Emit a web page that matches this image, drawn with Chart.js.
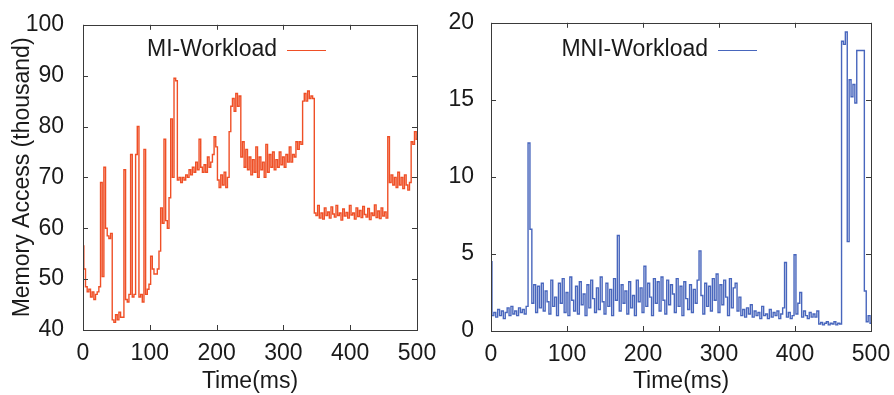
<!DOCTYPE html>
<html>
<head>
<meta charset="utf-8">
<title>Memory access: MI vs MNI workload</title>
<script src="https://cdn.jsdelivr.net/npm/chart.js@4.4.1/dist/chart.umd.min.js"></script>
<style>
  html, body { margin: 0; padding: 0; background: #fff; }
  #wrap { position: relative; width: 894px; height: 395px; overflow: hidden; }
  #miChart { position: absolute; left: 0; top: 0; }
  #mniChart { position: absolute; left: 445px; top: 0; }
</style>
</head>
<body>
<div id="wrap">
  <canvas id="miChart" width="445" height="395"></canvas>
  <canvas id="mniChart" width="449" height="395"></canvas>
</div>
<script>
// samples are 2.5 ms apart, 0..500 ms
const sampleMs = 2.5;
const xTicks = [0, 100, 200, 300, 400, 500];

// MI-Workload, memory accesses (thousand)
const miValues = [
  56.5, 52, 48.5, 47.5, 48, 46.5, 47.5, 46, 47, 47.5,
  48.5, 69, 50.5, 72, 60, 58.5, 58, 59, 42, 41.5,
  43, 42, 43.5, 42.5, 42.5, 71.5, 46, 45.5, 47, 74.5,
  46.5, 47, 74.5, 80, 46.5, 47, 45.5, 75.5, 47, 48,
  49, 54.5, 52, 51, 51, 52, 55.5, 64, 61, 77.5,
  61.5, 60, 66, 81.5, 70, 89.5, 89, 69.5, 70, 69,
  70, 69.5, 70.5, 70, 71.5, 70.5, 72, 71, 73, 71.5,
  77.5, 72, 71, 72.5, 71, 74, 72, 73, 74.5, 78,
  76, 69.5, 68, 70.5, 68.5, 71, 68, 70, 79, 84,
  85.5, 83, 86.5, 84, 86, 74, 77, 72, 75.5, 71.5,
  74, 70.5, 73.5, 71, 76, 70, 74, 71.5, 73, 70,
  76.5, 71, 74.5, 72, 75, 71.5, 73.5, 72, 75, 72.5,
  74, 72, 74.5, 73, 76, 73, 74.5, 74, 77, 75.5,
  77, 76.5, 85, 86.5, 85, 87, 85.5, 86, 85.5, 63,
  62.5, 64.5, 62, 63, 61.8, 64, 62.5, 63.2, 62, 64.2,
  62.8, 62.2, 64.5, 62.5, 63, 61.6, 63.8, 62.4, 63.1, 62,
  64.5, 62.6, 63, 61.8, 64, 62.3, 63.5, 62.1, 64.3, 62.7,
  62.2, 63.9, 61.7, 63, 62.5, 64.6, 62.1, 63.4, 61.9, 64,
  62.4, 63.2, 62, 78, 69, 70.5, 68.5, 70, 68, 71,
  68.5, 70, 67.8, 70.5, 68.5, 67.5, 69, 77, 76.5, 79,
  77.5
];

// MNI-Workload, memory accesses (thousand)
const mniValues = [
  4.5, 1.0, 1.2, 0.9, 1.4, 1.0, 1.3, 0.8, 1.2, 1.5,
  1.0, 1.6, 1.1, 1.3, 1.0, 1.5, 1.2, 1.4, 1.1, 1.6,
  12.2, 6.6, 1.8, 3.0, 1.2, 2.9, 1.5, 3.1, 1.3, 2.6,
  1.9, 1.1, 3.3, 1.6, 2.2, 1.0, 3.1, 1.8, 3.4, 1.2,
  2.5, 1.0, 3.5, 2.0, 1.3, 2.9, 1.1, 3.2, 1.7, 2.4,
  1.0, 3.0, 1.5, 3.3, 2.1, 1.2, 2.8, 1.4, 3.5, 1.9,
  1.1, 3.1, 1.6, 2.7, 1.0, 3.4, 2.0, 6.2, 1.3, 3.0,
  1.8, 2.6, 1.1, 3.2, 1.5, 2.3, 1.0, 3.3, 1.9, 2.8,
  1.2, 4.2, 1.6, 3.1, 2.2, 1.0, 3.4, 1.8, 3.2, 1.3,
  3.5, 2.0, 1.1, 3.3, 1.7, 3.0, 2.4, 1.2, 3.4, 1.6,
  2.9, 1.0, 3.2, 2.1, 1.4, 3.0, 1.2, 2.7, 1.8, 3.3,
  5.2, 2.3, 1.1, 3.1, 1.6, 2.9, 1.3, 3.4, 2.0, 3.7,
  1.2, 3.0, 1.7, 3.3, 2.2, 1.0, 3.4, 1.5, 2.8, 3.1,
  1.3, 2.2, 1.0, 1.4, 0.9, 1.5, 1.1, 1.7, 0.9, 1.3,
  1.0, 1.2, 0.8, 1.6, 1.0, 1.1, 0.8, 1.4, 0.9, 1.2,
  1.0, 1.3, 0.8, 1.1, 1.5, 4.45, 0.9, 1.2, 0.8, 1.0,
  4.95, 1.1, 1.8, 2.5, 0.9, 1.3, 1.0, 0.8, 1.2, 0.9,
  1.1, 0.9, 1.3, 0.45, 0.55, 0.4, 0.5, 0.6, 0.4, 0.5,
  0.45, 0.6, 0.4, 0.5, 0.45, 18.8, 18.6, 19.4, 5.8, 16.3,
  15.2, 16.0, 14.8, 18.2, 18.2, 18.2, 18.2, 2.6, 0.6, 1.0,
  0.5
];

Chart.defaults.font.family = '"Liberation Sans", Arial, sans-serif';
Chart.defaults.font.size = 23;
Chart.defaults.color = '#1a1a1a';

// gnuplot-ish box: frame, inward ticks on all four sides, legend inside the plot
const boxPlugin = {
  id: 'boxPlugin',
  afterDraw(chart, args, opts) {
    const ctx = chart.ctx;
    const a = chart.chartArea;
    const sx = chart.scales.x, sy = chart.scales.y;
    ctx.save();
    ctx.strokeStyle = '#3a3a3a';
    ctx.lineWidth = 1;
    ctx.beginPath();
    sx.ticks.forEach(t => {
      let px = Math.round(sx.getPixelForValue(t.value)) + 0.5;
      ctx.moveTo(px, a.bottom); ctx.lineTo(px, a.bottom - 5);
      ctx.moveTo(px, a.top); ctx.lineTo(px, a.top + 5);
    });
    sy.ticks.forEach(t => {
      let py = Math.round(sy.getPixelForValue(t.value)) + 0.5;
      ctx.moveTo(a.left, py); ctx.lineTo(a.left + 5, py);
      ctx.moveTo(a.right, py); ctx.lineTo(a.right - 5, py);
    });
    ctx.stroke();
    ctx.strokeRect(Math.round(a.left) + 0.5, Math.round(a.top) + 0.5,
      Math.round(a.right - a.left), Math.round(a.bottom - a.top));

    // legend: text then a short line sample
    let ds = chart.data.datasets[0];
    ctx.font = '23px "Liberation Sans", Arial, sans-serif';
    ctx.fillStyle = '#1a1a1a';
    ctx.textAlign = 'right';
    ctx.textBaseline = 'middle';
    ctx.fillText(ds.label, opts.textRight, opts.y);
    ctx.strokeStyle = ds.borderColor;
    ctx.lineWidth = 1.2;
    ctx.beginPath();
    ctx.moveTo(opts.lineFrom, opts.y + 0.5);
    ctx.lineTo(opts.lineTo, opts.y + 0.5);
    ctx.stroke();
    ctx.restore();
  }
};

function makeChart(canvasId, label, values, color, yMin, yMax, yStep, yTitle, box) {
  let points = values.map((v, i) => ({ x: i * sampleMs, y: v }));

  return new Chart(document.getElementById(canvasId), {
    type: 'line',
    data: {
      datasets: [{
        label: label,
        data: points,
        borderColor: color,
        borderWidth: 1.4,
        pointRadius: 0,
        stepped: 'middle',
        fill: false
      }]
    },
    options: {
      responsive: false,
      animation: false,
      layout: { padding: { top: box.top, right: box.right, left: 0, bottom: 0 } },
      plugins: {
        legend: { display: false },
        tooltip: { enabled: false },
        boxPlugin: box.legend
      },
      scales: {
        x: {
          type: 'linear',
          min: 0,
          max: 500,
          afterBuildTicks: s => { s.ticks = xTicks.map(v => ({ value: v })); },
          ticks: { padding: 2, maxRotation: 0, autoSkip: false },
          grid: { display: false },
          border: { display: false },
          title: { display: true, text: 'Time(ms)', padding: { top: 0, bottom: 0 } },
          afterFit: s => { s.height = box.bottom; }
        },
        y: {
          min: yMin,
          max: yMax,
          ticks: { stepSize: yStep, padding: box.tickPad },
          grid: { display: false },
          border: { display: false },
          title: { display: !!yTitle, text: yTitle, padding: { top: 9, bottom: 0 } },
          afterFit: s => { s.width = box.left; }
        }
      }
    },
    plugins: [boxPlugin]
  });
}

makeChart('miChart', 'MI-Workload', miValues, '#ef4f26', 40, 100, 10, 'Memory Access (thousand)', {
  left: 83, right: 28, top: 20, bottom: 65, tickPad: 11,
  legend: { textRight: 277, lineFrom: 287, lineTo: 326, y: 50 }
});

makeChart('mniChart', 'MNI-Workload', mniValues, '#4866bd', 0, 20, 5, '', {
  left: 46, right: 23, top: 20, bottom: 64, tickPad: 9,
  legend: { textRight: 263, lineFrom: 273, lineTo: 312, y: 50 }
});
</script>
</body>
</html>
